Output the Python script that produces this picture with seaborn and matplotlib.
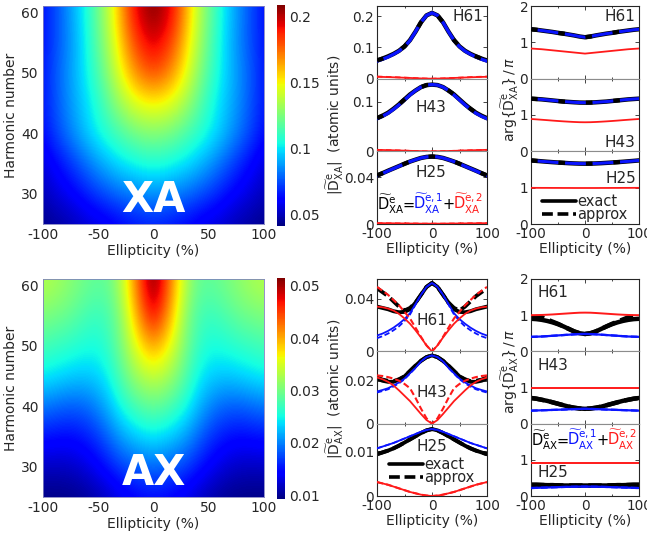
import numpy as np
import pandas as pd
import matplotlib
matplotlib.use("Agg")
import matplotlib.pyplot as plt
from matplotlib.lines import Line2D
import seaborn as sns

sns.set_style("ticks")
plt.rcParams["font.family"] = ["DejaVu Sans"]
plt.rcParams["mathtext.fontset"] = "dejavusans"
plt.rcParams["axes.unicode_minus"] = False

# ---------------- data ----------------
ellipticity = [-100, -90, -80, -70, -60, -50, -40, -30, -20, -10, 0,
               10, 20, 30, 40, 50, 60, 70, 80, 90, 100]
harmonics = [25, 30, 35, 40, 45, 50, 55, 60]

# |D_XA| map (rows = harmonics, cols = ellipticity)
xa_map = [
    [0.043, 0.045, 0.047, 0.050, 0.053, 0.055, 0.058, 0.061, 0.063, 0.065, 0.066, 0.065, 0.063, 0.061, 0.058, 0.055, 0.053, 0.050, 0.047, 0.045, 0.043],
    [0.050, 0.054, 0.058, 0.062, 0.067, 0.072, 0.076, 0.080, 0.083, 0.085, 0.086, 0.085, 0.083, 0.080, 0.076, 0.072, 0.067, 0.062, 0.058, 0.054, 0.050],
    [0.055, 0.061, 0.067, 0.074, 0.081, 0.088, 0.094, 0.099, 0.102, 0.105, 0.106, 0.105, 0.102, 0.099, 0.094, 0.088, 0.081, 0.074, 0.067, 0.061, 0.055],
    [0.064, 0.072, 0.080, 0.088, 0.096, 0.103, 0.109, 0.115, 0.121, 0.125, 0.126, 0.125, 0.121, 0.115, 0.109, 0.103, 0.096, 0.088, 0.080, 0.072, 0.064],
    [0.066, 0.074, 0.083, 0.091, 0.099, 0.108, 0.120, 0.132, 0.142, 0.148, 0.150, 0.148, 0.142, 0.132, 0.120, 0.108, 0.099, 0.091, 0.083, 0.074, 0.066],
    [0.066, 0.075, 0.084, 0.093, 0.103, 0.115, 0.130, 0.147, 0.163, 0.175, 0.180, 0.175, 0.163, 0.147, 0.130, 0.115, 0.103, 0.093, 0.084, 0.075, 0.066],
    [0.065, 0.073, 0.082, 0.092, 0.104, 0.119, 0.136, 0.156, 0.176, 0.189, 0.195, 0.189, 0.176, 0.156, 0.136, 0.119, 0.104, 0.092, 0.082, 0.073, 0.065],
    [0.065, 0.073, 0.083, 0.094, 0.106, 0.122, 0.140, 0.163, 0.186, 0.200, 0.207, 0.200, 0.186, 0.163, 0.140, 0.122, 0.106, 0.094, 0.083, 0.073, 0.065],
]
# |D_AX| map
ax_map = [
    [0.0095, 0.0095, 0.0096, 0.0098, 0.0103, 0.0110, 0.0120, 0.0130, 0.0138, 0.0143, 0.0145, 0.0143, 0.0138, 0.0130, 0.0120, 0.0110, 0.0103, 0.0098, 0.0096, 0.0095, 0.0095],
    [0.0118, 0.0117, 0.0118, 0.0122, 0.0130, 0.0142, 0.0155, 0.0170, 0.0180, 0.0187, 0.0190, 0.0187, 0.0180, 0.0170, 0.0155, 0.0142, 0.0130, 0.0122, 0.0118, 0.0117, 0.0118],
    [0.0152, 0.0150, 0.0148, 0.0150, 0.0158, 0.0170, 0.0190, 0.0210, 0.0225, 0.0235, 0.0240, 0.0235, 0.0225, 0.0210, 0.0190, 0.0170, 0.0158, 0.0150, 0.0148, 0.0150, 0.0152],
    [0.0195, 0.0190, 0.0185, 0.0185, 0.0190, 0.0205, 0.0225, 0.0250, 0.0270, 0.0285, 0.0290, 0.0285, 0.0270, 0.0250, 0.0225, 0.0205, 0.0190, 0.0185, 0.0185, 0.0190, 0.0195],
    [0.0245, 0.0240, 0.0235, 0.0230, 0.0230, 0.0235, 0.0250, 0.0280, 0.0310, 0.0330, 0.0340, 0.0330, 0.0310, 0.0280, 0.0250, 0.0235, 0.0230, 0.0230, 0.0235, 0.0240, 0.0245],
    [0.0275, 0.0270, 0.0265, 0.0260, 0.0255, 0.0255, 0.0270, 0.0300, 0.0340, 0.0380, 0.0400, 0.0380, 0.0340, 0.0300, 0.0270, 0.0255, 0.0255, 0.0260, 0.0265, 0.0270, 0.0275],
    [0.0305, 0.0300, 0.0295, 0.0285, 0.0275, 0.0270, 0.0280, 0.0310, 0.0370, 0.0430, 0.0470, 0.0430, 0.0370, 0.0310, 0.0280, 0.0270, 0.0275, 0.0285, 0.0295, 0.0300, 0.0305],
    [0.0330, 0.0325, 0.0315, 0.0305, 0.0295, 0.0290, 0.0295, 0.0330, 0.0390, 0.0460, 0.0510, 0.0460, 0.0390, 0.0330, 0.0295, 0.0290, 0.0295, 0.0305, 0.0315, 0.0325, 0.0330],
]

# ---- XA amplitudes ----
xa61_tot = [0.058, 0.064, 0.071, 0.079, 0.089, 0.103, 0.123, 0.150, 0.180, 0.202, 0.210, 0.202, 0.180, 0.150, 0.123, 0.103, 0.089, 0.079, 0.071, 0.064, 0.058]
xa61_e1 = [0.056, 0.062, 0.069, 0.078, 0.088, 0.102, 0.122, 0.150, 0.180, 0.202, 0.210, 0.202, 0.180, 0.150, 0.122, 0.102, 0.088, 0.078, 0.069, 0.062, 0.056]
xa61_e2 = [0.0060, 0.0055, 0.0050, 0.0044, 0.0037, 0.0030, 0.0023, 0.0015, 0.0008, 0.0003, 0.0, 0.0003, 0.0008, 0.0015, 0.0023, 0.0030, 0.0037, 0.0044, 0.0050, 0.0055, 0.0060]
xa61_e2_apx = [0.0068, 0.0062, 0.0056, 0.0049, 0.0041, 0.0033, 0.0025, 0.0017, 0.0009, 0.0003, 0.0, 0.0003, 0.0009, 0.0017, 0.0025, 0.0033, 0.0041, 0.0049, 0.0056, 0.0062, 0.0068]
xa43_tot = [0.067, 0.072, 0.078, 0.086, 0.095, 0.105, 0.115, 0.123, 0.130, 0.134, 0.135, 0.134, 0.130, 0.123, 0.115, 0.105, 0.095, 0.086, 0.078, 0.072, 0.067]
xa43_e1 = [0.066, 0.071, 0.077, 0.085, 0.094, 0.104, 0.114, 0.123, 0.130, 0.134, 0.135, 0.134, 0.130, 0.123, 0.114, 0.104, 0.094, 0.085, 0.077, 0.071, 0.066]
xa43_e2 = [0.0030, 0.0027, 0.0024, 0.0021, 0.0018, 0.0014, 0.0010, 0.0007, 0.0004, 0.0001, 0.0, 0.0001, 0.0004, 0.0007, 0.0010, 0.0014, 0.0018, 0.0021, 0.0024, 0.0027, 0.0030]
xa25_tot = [0.0417, 0.0437, 0.0458, 0.0478, 0.0498, 0.0518, 0.0537, 0.0553, 0.0568, 0.0577, 0.0580, 0.0577, 0.0568, 0.0553, 0.0537, 0.0518, 0.0498, 0.0478, 0.0458, 0.0437, 0.0417]
xa25_e1 = [0.0415, 0.0435, 0.0456, 0.0477, 0.0497, 0.0517, 0.0537, 0.0553, 0.0568, 0.0577, 0.0580, 0.0577, 0.0568, 0.0553, 0.0537, 0.0517, 0.0497, 0.0477, 0.0456, 0.0435, 0.0415]
xa25_e2 = [0.0007, 0.0007, 0.0006, 0.0006, 0.0005, 0.0005, 0.0004, 0.0004, 0.0003, 0.0003, 0.0003, 0.0003, 0.0003, 0.0004, 0.0004, 0.0005, 0.0005, 0.0006, 0.0006, 0.0007, 0.0007]

# ---- AX amplitudes ----
ax61_tot = [0.034, 0.033, 0.032, 0.0305, 0.0297, 0.030, 0.032, 0.037, 0.043, 0.049, 0.052, 0.049, 0.043, 0.037, 0.032, 0.030, 0.0297, 0.0305, 0.032, 0.033, 0.034]
ax61_tot_apx = [0.048, 0.045, 0.042, 0.038, 0.034, 0.031, 0.033, 0.037, 0.043, 0.049, 0.052, 0.049, 0.043, 0.037, 0.033, 0.031, 0.034, 0.038, 0.042, 0.045, 0.048]
ax61_e1 = [0.012, 0.0135, 0.0155, 0.018, 0.021, 0.0245, 0.029, 0.036, 0.043, 0.049, 0.052, 0.049, 0.043, 0.036, 0.029, 0.0245, 0.021, 0.018, 0.0155, 0.0135, 0.012]
ax61_e1_apx = [0.010, 0.0115, 0.0135, 0.016, 0.019, 0.023, 0.028, 0.0355, 0.043, 0.049, 0.052, 0.049, 0.043, 0.0355, 0.028, 0.023, 0.019, 0.016, 0.0135, 0.0115, 0.010]
ax61_e2 = [0.034, 0.0335, 0.0325, 0.031, 0.0285, 0.025, 0.021, 0.016, 0.0105, 0.0045, 0.0, 0.0045, 0.0105, 0.016, 0.021, 0.025, 0.0285, 0.031, 0.0325, 0.0335, 0.034]
ax61_e2_apx = [0.049, 0.046, 0.043, 0.039, 0.035, 0.030, 0.025, 0.018, 0.011, 0.0045, 0.0, 0.0045, 0.011, 0.018, 0.025, 0.030, 0.035, 0.039, 0.043, 0.046, 0.049]
ax43_tot = [0.021, 0.020, 0.0195, 0.0195, 0.0205, 0.022, 0.0245, 0.027, 0.0293, 0.031, 0.0318, 0.031, 0.0293, 0.027, 0.0245, 0.022, 0.0205, 0.0195, 0.0195, 0.020, 0.021]
ax43_tot_apx = [0.0215, 0.0205, 0.020, 0.0198, 0.0207, 0.022, 0.0245, 0.027, 0.0293, 0.031, 0.0318, 0.031, 0.0293, 0.027, 0.0245, 0.022, 0.0207, 0.0198, 0.020, 0.0205, 0.0215]
ax43_e1 = [0.015, 0.0157, 0.0165, 0.0178, 0.0192, 0.021, 0.0235, 0.026, 0.029, 0.031, 0.0318, 0.031, 0.029, 0.026, 0.0235, 0.021, 0.0192, 0.0178, 0.0165, 0.0157, 0.015]
ax43_e1_apx = [0.0145, 0.0152, 0.016, 0.0173, 0.0188, 0.0207, 0.0233, 0.026, 0.029, 0.031, 0.0318, 0.031, 0.029, 0.026, 0.0233, 0.0207, 0.0188, 0.0173, 0.016, 0.0152, 0.0145]
ax43_e2 = [0.0215, 0.0207, 0.0195, 0.0178, 0.0155, 0.013, 0.0105, 0.0075, 0.0045, 0.0017, 0.0, 0.0017, 0.0045, 0.0075, 0.0105, 0.013, 0.0155, 0.0178, 0.0195, 0.0207, 0.0215]
ax43_e2_apx = [0.0225, 0.0222, 0.0217, 0.021, 0.020, 0.0185, 0.0165, 0.012, 0.007, 0.0025, 0.0, 0.0025, 0.007, 0.012, 0.0165, 0.0185, 0.020, 0.021, 0.0217, 0.0222, 0.0225]
ax25_tot = [0.0093, 0.0097, 0.0101, 0.0106, 0.0112, 0.0119, 0.0126, 0.0133, 0.0140, 0.0146, 0.0149, 0.0146, 0.0140, 0.0133, 0.0126, 0.0119, 0.0112, 0.0106, 0.0101, 0.0097, 0.0093]
ax25_e1 = [0.0106, 0.0110, 0.0114, 0.0118, 0.0123, 0.0128, 0.0133, 0.0138, 0.0143, 0.0147, 0.0149, 0.0147, 0.0143, 0.0138, 0.0133, 0.0128, 0.0123, 0.0118, 0.0114, 0.0110, 0.0106]
ax25_e2 = [0.0031, 0.0028, 0.0025, 0.0021, 0.0017, 0.0013, 0.0009, 0.0006, 0.0003, 0.0001, 0.0, 0.0001, 0.0003, 0.0006, 0.0009, 0.0013, 0.0017, 0.0021, 0.0025, 0.0028, 0.0031]

# ---- XA phases (units of pi) ----
pxa61_tot = [1.36, 1.345, 1.325, 1.305, 1.285, 1.26, 1.24, 1.215, 1.19, 1.16, 1.14, 1.16, 1.19, 1.215, 1.24, 1.26, 1.285, 1.305, 1.325, 1.345, 1.36]
pxa61_e2 = [0.83, 0.82, 0.81, 0.795, 0.78, 0.765, 0.75, 0.735, 0.72, 0.705, 0.69, 0.705, 0.72, 0.735, 0.75, 0.765, 0.78, 0.795, 0.81, 0.82, 0.83]
pxa43_tot = [1.45, 1.44, 1.43, 1.415, 1.40, 1.385, 1.37, 1.36, 1.35, 1.342, 1.34, 1.342, 1.35, 1.36, 1.37, 1.385, 1.40, 1.415, 1.43, 1.44, 1.45]
pxa43_e2 = [0.89, 0.88, 0.869, 0.858, 0.846, 0.835, 0.825, 0.816, 0.808, 0.802, 0.80, 0.802, 0.808, 0.816, 0.825, 0.835, 0.846, 0.858, 0.869, 0.88, 0.89]
pxa25_tot = [1.75, 1.737, 1.725, 1.713, 1.702, 1.692, 1.683, 1.674, 1.667, 1.662, 1.66, 1.662, 1.667, 1.674, 1.683, 1.692, 1.702, 1.713, 1.725, 1.737, 1.75]
pxa25_e2 = [0.995, 0.995, 0.994, 0.994, 0.993, 0.993, 0.992, 0.992, 0.991, 0.991, 0.991, 0.991, 0.991, 0.992, 0.992, 0.993, 0.993, 0.994, 0.994, 0.995, 0.995]

# ---- AX phases (units of pi) ----
pax61_tot = [0.90, 0.89, 0.87, 0.84, 0.80, 0.75, 0.69, 0.62, 0.55, 0.50, 0.48, 0.50, 0.55, 0.62, 0.69, 0.75, 0.80, 0.84, 0.87, 0.89, 0.90]
pax61_tot_apx = [0.92, 0.95, 0.94, 0.88, 0.82, 0.76, 0.69, 0.62, 0.55, 0.50, 0.48, 0.50, 0.55, 0.62, 0.69, 0.76, 0.82, 0.88, 0.94, 0.95, 0.92]
pax61_e1 = [0.40, 0.405, 0.41, 0.42, 0.43, 0.44, 0.45, 0.46, 0.47, 0.478, 0.48, 0.478, 0.47, 0.46, 0.45, 0.44, 0.43, 0.42, 0.41, 0.405, 0.40]
pax61_e2 = [1.00, 1.002, 1.006, 1.012, 1.02, 1.03, 1.04, 1.05, 1.06, 1.068, 1.07, 1.068, 1.06, 1.05, 1.04, 1.03, 1.02, 1.012, 1.006, 1.002, 1.00]
pax43_tot = [0.71, 0.69, 0.66, 0.63, 0.59, 0.55, 0.51, 0.47, 0.44, 0.42, 0.41, 0.42, 0.44, 0.47, 0.51, 0.55, 0.59, 0.63, 0.66, 0.69, 0.71]
pax43_e1 = [0.36, 0.365, 0.37, 0.375, 0.38, 0.385, 0.39, 0.397, 0.403, 0.408, 0.41, 0.408, 0.403, 0.397, 0.39, 0.385, 0.38, 0.375, 0.37, 0.365, 0.36]
pax43_e2 = [1.0, 1.0, 1.0, 1.0, 1.0, 1.0, 1.0, 1.0, 1.0, 1.0, 1.0, 1.0, 1.0, 1.0, 1.0, 1.0, 1.0, 1.0, 1.0, 1.0, 1.0]
pax25_tot = [0.31, 0.31, 0.305, 0.30, 0.30, 0.295, 0.29, 0.29, 0.29, 0.29, 0.29, 0.29, 0.29, 0.29, 0.29, 0.295, 0.30, 0.30, 0.305, 0.31, 0.31]
pax25_e1 = [0.22, 0.225, 0.23, 0.235, 0.24, 0.245, 0.25, 0.254, 0.257, 0.259, 0.26, 0.259, 0.257, 0.254, 0.25, 0.245, 0.24, 0.235, 0.23, 0.225, 0.22]
pax25_e2 = [0.91, 0.91, 0.91, 0.91, 0.91, 0.91, 0.91, 0.91, 0.91, 0.91, 0.91, 0.91, 0.91, 0.91, 0.91, 0.91, 0.91, 0.91, 0.91, 0.91, 0.91]

# ---------------- figure ----------------
W, H = 647, 535
fig = plt.figure(figsize=(W / 100, H / 100), dpi=100)

def rect(x0, y0, x1, y1):
    return [x0 / W, (H - y1) / H, (x1 - x0) / W, (y1 - y0) / H]

FS = 9.5      # tick labels
LFS = 10      # axis labels
BLUE = "#0a14ff"
RED = "#ff1a1a"
GRAY = "0.55"

def heat(y0, y1, data, vmin, vmax, ticks, ticklabels, tag):
    ax = fig.add_axes(rect(43, y0, 264, y1))
    Z = np.array(data)
    im = ax.imshow(Z, origin="lower", aspect="auto", cmap="jet", vmin=vmin, vmax=vmax,
                   extent=[ellipticity[0] - 5, ellipticity[-1] + 5, harmonics[0] - 2.5, harmonics[-1] + 2.5],
                   interpolation="bicubic")
    ax.set_xlim(-100, 100)
    ax.set_ylim(25, 61)
    ax.set_xticks([-100, -50, 0, 50, 100])
    ax.set_yticks([30, 40, 50, 60])
    ax.tick_params(labelsize=FS + 0.5, length=0, pad=3)
    ax.set_xlabel("Ellipticity (%)", fontsize=LFS, labelpad=1)
    ax.set_ylabel("Harmonic number", fontsize=LFS, labelpad=2)
    for s in ax.spines.values():
        s.set_color("#8080c0")
        s.set_linewidth(0.6)
    ax.text(0.5, 0.11, tag, transform=ax.transAxes, color="white", fontsize=30,
            fontweight="bold", ha="center", va="center")
    cax = fig.add_axes(rect(277, y0 - 1, 285, y1 + 2))
    cb = fig.colorbar(im, cax=cax, ticks=ticks)
    cb.set_ticklabels(ticklabels)
    cb.outline.set_visible(False)
    cax.tick_params(labelsize=FS + 0.5, length=0, pad=3)
    return ax

heat(6, 224, xa_map, 0.041, 0.209, [0.05, 0.1, 0.15, 0.2], ["0.05", "0.1", "0.15", "0.2"], "XA")
heat(279, 497, ax_map, 0.0093, 0.0515, [0.01, 0.02, 0.03, 0.04, 0.05], ["0.01", "0.02", "0.03", "0.04", "0.05"], "AX")


def stack(x0, x1, y0, y1):
    h = (y1 - y0) / 3
    axs = [fig.add_axes(rect(x0, y0 + i * h, x1, y0 + (i + 1) * h)) for i in range(3)]
    for i, a in enumerate(axs):
        a.set_xlim(-100, 100)
        a.set_xticks([-100, 0, 100])
        a.set_xticks([-50, 50], minor=True)
        a.tick_params(which="both", direction="in", labelsize=FS + 0.3, length=3, width=0.6,
                      top=True, right=True, pad=2)
        a.tick_params(which="minor", length=1.5)
        for s in a.spines.values():
            s.set_linewidth(0.8)
            s.set_color("0.15")
        if i > 0:
            a.spines["top"].set_color(GRAY)
        if i < 2:
            a.spines["bottom"].set_color(GRAY)
            a.tick_params(labelbottom=False)
    return axs


def draw(a, y, color, lw, z=2, dashes=None):
    ln = sns.lineplot(x=ellipticity, y=y, ax=a, color=color, linewidth=lw, zorder=z, legend=False)
    if dashes is not None:
        ln.lines[-1].set_dashes(dashes)


def set_y(a, top, ticks, labels):
    a.set_ylim(0, top)
    a.set_yticks(ticks)
    a.set_yticklabels(labels)
    a.set_ylabel("")
    a.set_xlabel("")


def text(a, x, y, s, ha="center"):
    a.text(x, y, s, transform=a.transAxes, fontsize=FS + 1.5, ha=ha, va="center")


def legend(a, loc, anchor):
    h = [Line2D([], [], color="k", lw=2.6), Line2D([], [], color="k", lw=2.6, dashes=(3, 1.3))]
    a.legend(h, ["exact", "approx"], loc=loc, bbox_to_anchor=anchor, frameon=False,
             fontsize=FS + 1, handlelength=2.3, handletextpad=0.1, labelspacing=-0.15,
             borderpad=0, borderaxespad=0)


# ---- top middle: XA amplitudes ----
tm = stack(377, 487, 6, 224)
for a, tot, e1, e2, e2a in [(tm[0], xa61_tot, xa61_e1, xa61_e2, xa61_e2_apx),
                           (tm[1], xa43_tot, xa43_e1, xa43_e2, xa43_e2),
                           (tm[2], xa25_tot, xa25_e1, xa25_e2, xa25_e2)]:
    draw(a, tot, "k", 3.2, z=2)
    draw(a, e1, BLUE, 2.4, z=3)
    draw(a, tot, "k", 3.0, z=4, dashes=(1.6, 5))
    draw(a, e2, RED, 1.3, z=3)
    draw(a, e2a, RED, 1.3, z=3, dashes=(3, 2))
set_y(tm[0], 0.232, [0, 0.1, 0.2], ["0", "0.1", "0.2"])
set_y(tm[1], 0.147, [0, 0.1], ["0", "0.1"])
set_y(tm[2], 0.0625, [0, 0.04], ["0", "0.04"])
tm[2].set_xlabel("Ellipticity (%)", fontsize=LFS, labelpad=1)
text(tm[0], 0.97, 0.85, "H61", ha="right")
text(tm[1], 0.49, 0.61, "H43")
text(tm[2], 0.49, 0.71, "H25")

# ---- top right: XA phases ----
tr = stack(531, 639, 6, 224)
for a, tot, e2 in [(tr[0], pxa61_tot, pxa61_e2), (tr[1], pxa43_tot, pxa43_e2), (tr[2], pxa25_tot, pxa25_e2)]:
    draw(a, tot, "k", 3.2, z=2)
    draw(a, tot, BLUE, 2.2, z=3)
    draw(a, tot, "k", 3.0, z=4, dashes=(1.6, 5))
    draw(a, e2, RED, 1.3, z=3)
    set_y(a, 2, [0, 1, 2], ["0", "1", ""])
tr[0].set_yticklabels(["0", "1", "2"])
tr[2].set_xlabel("Ellipticity (%)", fontsize=LFS, labelpad=1)
text(tr[0], 0.97, 0.85, "H61", ha="right")
text(tr[1], 0.97, 0.125, "H43", ha="right")
text(tr[2], 0.97, 0.63, "H25", ha="right")
legend(tr[2], "lower center", (0.5, 0.03))

# ---- bottom middle: AX amplitudes ----
bm = stack(377, 487, 279, 496)
for a, tot, tota, e1, e1a, e2, e2a in [
        (bm[0], ax61_tot, ax61_tot_apx, ax61_e1, ax61_e1_apx, ax61_e2, ax61_e2_apx),
        (bm[1], ax43_tot, ax43_tot_apx, ax43_e1, ax43_e1_apx, ax43_e2, ax43_e2_apx),
        (bm[2], ax25_tot, ax25_tot, ax25_e1, ax25_e1, ax25_e2, ax25_e2)]:
    draw(a, tot, "k", 2.8, z=2)
    draw(a, tota, "k", 2.8, z=2, dashes=(3, 1.3))
    draw(a, e1, BLUE, 1.3, z=3)
    draw(a, e1a, BLUE, 1.3, z=3, dashes=(3, 1.5))
    draw(a, e2, RED, 1.3, z=3)
    draw(a, e2a, RED, 1.5, z=3, dashes=(3, 1.5))
set_y(bm[0], 0.055, [0, 0.04], ["0", "0.04"])
set_y(bm[1], 0.0337, [0, 0.02], ["0", "0.02"])
set_y(bm[2], 0.0161, [0, 0.01], ["0", "0.01"])
bm[2].set_xlabel("Ellipticity (%)", fontsize=LFS, labelpad=1)
text(bm[0], 0.5, 0.43, "H61")
text(bm[1], 0.5, 0.43, "H43")
text(bm[2], 0.5, 0.68, "H25")
legend(bm[2], "lower center", (0.5, 0.15))

# ---- bottom right: AX phases ----
br = stack(531, 639, 279, 496)
for a, tot, tota, e1, e2 in [(br[0], pax61_tot, pax61_tot_apx, pax61_e1, pax61_e2),
                             (br[1], pax43_tot, pax43_tot, pax43_e1, pax43_e2),
                             (br[2], pax25_tot, pax25_tot, pax25_e1, pax25_e2)]:
    draw(a, tot, "k", 3.2, z=2)
    draw(a, tota, "k", 3.2, z=2, dashes=(3, 1.3))
    draw(a, e1, BLUE, 1.6, z=3)
    draw(a, e1, BLUE, 1.6, z=3, dashes=(3, 1.5))
    draw(a, e2, RED, 1.4, z=3)
    set_y(a, 2, [0, 1, 2], ["0", "1", ""])
br[0].set_yticklabels(["0", "1", "2"])
br[2].set_xlabel("Ellipticity (%)", fontsize=LFS, labelpad=1)
text(br[0], 0.06, 0.82, "H61", ha="left")
text(br[1], 0.06, 0.81, "H43", ha="left")
text(br[2], 0.06, 0.32, "H25", ha="left")

# ---- y labels ----
def ylab(x, y, s):
    fig.text(x / W, (H - y) / H, s, rotation=90, ha="center", va="center", fontsize=LFS)

ylab(335, 125, r"$|\widetilde{\mathrm{D}}^{\mathrm{e}}_{\mathrm{XA}}|$  (atomic units)")
ylab(335, 389, r"$|\widetilde{\mathrm{D}}^{\mathrm{e}}_{\mathrm{AX}}|$  (atomic units)")
ylab(510, 100, r"arg$\{\widetilde{\mathrm{D}}^{\mathrm{e}}_{\mathrm{XA}}\}\,/\,\pi$")
ylab(510, 372, r"arg$\{\widetilde{\mathrm{D}}^{\mathrm{e}}_{\mathrm{AX}}\}\,/\,\pi$")

# ---- multi-coloured equations ----
renderer = fig.canvas.get_renderer()

def equation(a, x, y, sub, fs):
    pieces = [(r"$\widetilde{\mathrm{D}}^{\mathrm{e}}_{\mathrm{%s}}$" % sub, "k"), ("=", "k"),
              (r"$\widetilde{\mathrm{D}}^{\mathrm{e,1}}_{\mathrm{%s}}$" % sub, BLUE), ("+", "k"),
              (r"$\widetilde{\mathrm{D}}^{\mathrm{e,2}}_{\mathrm{%s}}$" % sub, RED)]
    px, py = a.transAxes.transform((x, y))
    for s, c in pieces:
        t = fig.text(px / fig.bbox.width, py / fig.bbox.height, s, color=c, fontsize=fs,
                     ha="left", va="baseline")
        bb = t.get_window_extent(renderer=renderer)
        px += bb.width - 1.5

equation(tm[2], 0.0, 0.2, "XA", 10.5)
equation(br[2], 0.0, 0.7, "AX", 10.5)

fig.savefig("out.png", dpi=100)
